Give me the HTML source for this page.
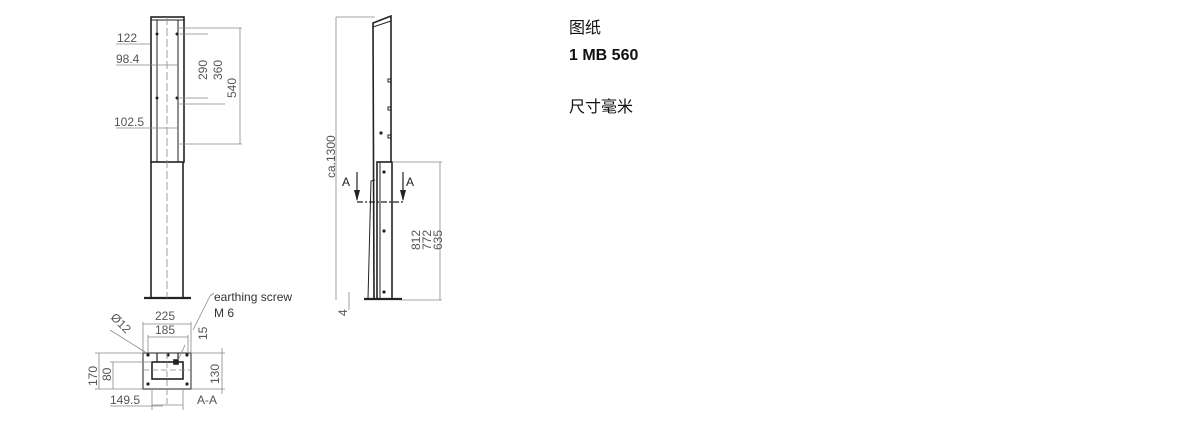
<!DOCTYPE html>
<html><head><meta charset="utf-8"><style>
body{margin:0;width:1200px;height:427px;background:#fff;overflow:hidden}
svg{position:absolute;left:0;top:0}
.t{font-family:"Liberation Sans","DejaVu Sans",sans-serif;fill:#555;font-size:12px}
.c{font-family:"Liberation Sans","Noto Sans CJK SC",sans-serif;fill:#111;font-size:16px}
</style></head><body>
<svg width="1200" height="427" viewBox="0 0 1200 427">
<g stroke="#222" fill="none" stroke-width="1.6">
<rect x="151" y="17" width="33" height="145"/>
<line x1="157" y1="20" x2="157" y2="162" stroke-width="1"/>
<line x1="178" y1="20" x2="178" y2="162" stroke-width="1"/>
<line x1="151" y1="20" x2="184" y2="20" stroke-width="1"/>
<line x1="151" y1="162" x2="151" y2="298"/>
<line x1="183" y1="162" x2="183" y2="298"/>
<line x1="144" y1="298" x2="191" y2="298" stroke-width="2.2"/>
<polyline points="374,299 373,23 391,16 391,162"/>
<line x1="373" y1="27" x2="391" y2="21" stroke-width="1"/>
<rect x="377" y="162" width="15" height="137"/>
<line x1="380" y1="162" x2="380" y2="299" stroke-width="1"/>
<polyline points="368,299 371,181 375,180" stroke-width="1"/>
<line x1="364" y1="299" x2="402" y2="299" stroke-width="2.2"/>
<rect x="143" y="353" width="48" height="36" stroke-width="1"/>
<rect x="152" y="362" width="31" height="17"/>
<line x1="157" y1="353" x2="157" y2="362" stroke-width="1.2"/>
<line x1="178" y1="353" x2="178" y2="362" stroke-width="1.2"/>
<rect x="174" y="360" width="4" height="4" fill="#222"/>
<rect x="388" y="79" width="3" height="3" stroke-width="1"/>
<rect x="388" y="107" width="3" height="3" stroke-width="1"/>
<rect x="388" y="135" width="3" height="3" stroke-width="1"/>
</g>
<g fill="#222">
<circle cx="148" cy="355" r="1.6"/><circle cx="168" cy="355" r="1.6"/><circle cx="187" cy="355" r="1.6"/>
<circle cx="148" cy="384" r="1.6"/><circle cx="187" cy="384" r="1.6"/>
<circle cx="381" cy="133" r="1.6"/><circle cx="384" cy="172" r="1.6"/><circle cx="384" cy="231" r="1.6"/><circle cx="384" cy="292" r="1.6"/>
<circle cx="157" cy="34" r="1.5"/><circle cx="177" cy="34" r="1.5"/><circle cx="157" cy="98" r="1.5"/><circle cx="177" cy="98" r="1.5"/>
</g>
<g stroke="#888" stroke-width="0.8" fill="none">
<line x1="167" y1="17" x2="167" y2="298" stroke-dasharray="8,3"/>
<line x1="167" y1="353" x2="167" y2="405" stroke-dasharray="6,3"/>
<line x1="143" y1="370" x2="191" y2="370" stroke-dasharray="6,3"/>
<line x1="240" y1="28" x2="240" y2="144"/>
<line x1="178" y1="28" x2="242" y2="28"/><line x1="178" y1="144" x2="242" y2="144"/>
<line x1="178" y1="34" x2="208" y2="34"/><line x1="178" y1="98" x2="208" y2="98"/>
<line x1="178" y1="104" x2="225" y2="104"/>
<line x1="116" y1="44" x2="150" y2="44"/><line x1="116" y1="65" x2="178" y2="65"/><line x1="116" y1="128" x2="178" y2="128"/>
<line x1="336" y1="17" x2="375" y2="17"/><line x1="336" y1="17" x2="336" y2="300"/>
<line x1="392" y1="162" x2="442" y2="162"/><line x1="402" y1="300" x2="442" y2="300"/>
<line x1="440" y1="162" x2="440" y2="300"/>
<line x1="349" y1="292" x2="349" y2="310"/>
<line x1="143" y1="322" x2="143" y2="353"/><line x1="191" y1="322" x2="191" y2="353"/>
<line x1="143" y1="324" x2="191" y2="324"/>
<line x1="148" y1="337" x2="188" y2="337"/>
<line x1="148" y1="335" x2="148" y2="353"/><line x1="188" y1="335" x2="188" y2="353"/>
<line x1="99" y1="353" x2="99" y2="389"/><line x1="95" y1="353" x2="143" y2="353"/><line x1="95" y1="389" x2="143" y2="389"/>
<line x1="113" y1="362" x2="113" y2="389"/><line x1="110" y1="362" x2="152" y2="362"/>
<line x1="191" y1="353" x2="225" y2="353"/><line x1="191" y1="389" x2="225" y2="389"/>
<line x1="222" y1="348" x2="222" y2="394"/>
<line x1="110" y1="406" x2="163" y2="406"/>
<line x1="152" y1="405" x2="183" y2="405"/>
<line x1="152" y1="389" x2="152" y2="410"/><line x1="183" y1="389" x2="183" y2="410"/>
<line x1="110" y1="330" x2="145" y2="352"/>
<line x1="178" y1="360" x2="185" y2="345"/>
<line x1="193" y1="330" x2="210" y2="296"/>
<line x1="210" y1="296" x2="214" y2="293"/>
</g>
<g stroke="#222" stroke-width="1.2" fill="none">
<line x1="357" y1="202" x2="403" y2="202" stroke-dasharray="6,2,2,2"/>
<line x1="357" y1="172" x2="357" y2="200"/><line x1="403" y1="172" x2="403" y2="200"/>
</g>
<g fill="#222"><polygon points="354,190 360,190 357,201"/><polygon points="400,190 406,190 403,201"/></g>
<text class="t" x="117" y="42">122</text>
<text class="t" x="116" y="63">98.4</text>
<text class="t" x="114" y="126">102.5</text>
<text class="t" transform="translate(207,80) rotate(-90)">290</text>
<text class="t" transform="translate(222,80) rotate(-90)">360</text>
<text class="t" transform="translate(236,98) rotate(-90)">540</text>
<text class="t" transform="translate(335,178) rotate(-90)">ca.1300</text>
<text class="t" transform="translate(420,250) rotate(-90)">812</text>
<text class="t" transform="translate(431,250) rotate(-90)">772</text>
<text class="t" transform="translate(442,250) rotate(-90)">635</text>
<text class="t" transform="translate(347,316) rotate(-90)">4</text>
<text class="t" x="342" y="186" style="fill:#222">A</text>
<text class="t" x="406" y="186" style="fill:#222">A</text>
<text class="t" x="214" y="301" style="fill:#333">earthing screw</text>
<text class="t" x="214" y="317" style="fill:#333">M 6</text>
<text class="t" x="155" y="320">225</text>
<text class="t" x="155" y="334">185</text>
<text class="t" transform="translate(110,318) rotate(45)">Ø12</text>
<text class="t" transform="translate(207,340) rotate(-90)">15</text>
<text class="t" transform="translate(97,386) rotate(-90)">170</text>
<text class="t" transform="translate(111,381) rotate(-90)">80</text>
<text class="t" transform="translate(219,384) rotate(-90)">130</text>
<text class="t" x="110" y="404">149.5</text>
<text class="t" x="197" y="404">A-A</text>
<text class="c" x="569" y="33">图纸</text>
<text class="c" x="569" y="60" style="font-weight:bold">1 MB 560</text>
<text class="c" x="569" y="112">尺寸毫米</text>
</svg>
</body></html>
